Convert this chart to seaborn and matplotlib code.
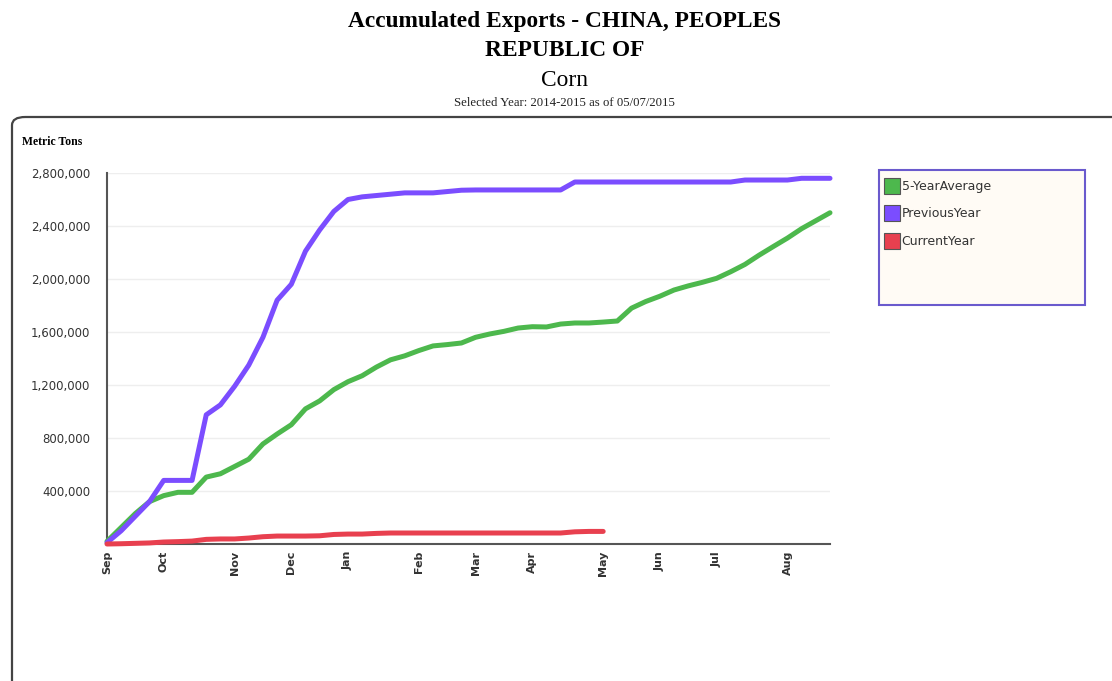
import numpy as np
import pandas as pd
import matplotlib
matplotlib.use('Agg')
import matplotlib.pyplot as plt
import seaborn as sns
from matplotlib.patches import FancyBboxPatch, Rectangle, Patch

# weekly points, Sep .. end of Aug (marketing year 2014-2015)
weeks = list(range(52))
month_labels = ['Sep', 'Oct', 'Nov', 'Dec', 'Jan', 'Feb', 'Mar', 'Apr', 'May', 'Jun', 'Jul', 'Aug']
month_weeks = [0, 4, 9, 13, 17, 22, 26, 30, 35, 39, 43, 48]

five_year_avg = [20000, 125000, 230000, 320000, 365000, 390000, 390000, 505000, 530000, 585000,
                 640000, 755000, 830000, 900000, 1020000, 1080000, 1165000, 1225000, 1270000, 1335000,
                 1390000, 1420000, 1460000, 1495000, 1505000, 1517000, 1560000, 1585000, 1605000, 1630000,
                 1640000, 1638000, 1660000, 1668000, 1668000, 1675000, 1683000, 1780000, 1830000, 1870000,
                 1917000, 1948000, 1975000, 2005000, 2055000, 2110000, 2180000, 2245000, 2309000, 2380000,
                 2440000, 2500000]
previous_year = [10000, 100000, 210000, 320000, 480000, 480000, 480000, 975000, 1050000, 1190000,
                 1350000, 1560000, 1840000, 1960000, 2210000, 2370000, 2510000, 2600000, 2620000, 2630000,
                 2640000, 2650000, 2650000, 2650000, 2660000, 2670000, 2672000, 2672000, 2672000, 2672000,
                 2672000, 2672000, 2672000, 2732000, 2732000, 2732000, 2732000, 2732000, 2732000, 2732000,
                 2732000, 2732000, 2732000, 2732000, 2732000, 2747000, 2747000, 2747000, 2747000, 2760000,
                 2760000, 2760000]
current_year = [0, 2000, 5000, 8000, 15000, 18000, 22000, 35000, 38000, 38000,
                45000, 55000, 60000, 60000, 60000, 62000, 72000, 75000, 75000, 80000,
                83000, 83000, 83000, 83000, 83000, 83000, 83000, 83000, 83000, 83000,
                83000, 83000, 83000, 92000, 95000, 95000]

series_names = ['5-YearAverage', 'PreviousYear', 'CurrentYear']
colors = ['#4DB84D', '#7B4DFF', '#E8404F']

df = pd.concat([
    pd.DataFrame({'week': weeks, 'tons': five_year_avg, 'series': series_names[0]}),
    pd.DataFrame({'week': weeks, 'tons': previous_year, 'series': series_names[1]}),
    pd.DataFrame({'week': weeks[:len(current_year)], 'tons': current_year, 'series': series_names[2]}),
])

sns.set_style('white')
fig = plt.figure(figsize=(11.12, 6.81), dpi=100)

# outer rounded frame
frame = FancyBboxPatch((12 / 1112, -0.05), 1.2, (681 - 117) / 681 + 0.05,
                       boxstyle='round,pad=0,rounding_size=0.012', transform=fig.transFigure,
                       facecolor='none', edgecolor='#444444', linewidth=1.6, zorder=-1)
fig.patches.append(frame)

ax = fig.add_axes([107 / 1112, 1 - 544 / 681, (830 - 107) / 1112, (544 - 173) / 681])
ax.set_facecolor('none')

sns.lineplot(data=df, x='week', y='tons', hue='series', palette=dict(zip(series_names, colors)),
             linewidth=3.6, legend=False, ax=ax, clip_on=False, zorder=3)

ax.set_xlim(0, 51)
ax.set_ylim(0, 2800000)
ax.set_yticks(range(400000, 2800001, 400000))
ax.set_yticklabels([f'{v:,}' for v in range(400000, 2800001, 400000)])
ax.set_xticks(month_weeks)
ax.set_xticklabels(month_labels, rotation=90, fontweight='bold')
ax.tick_params(axis='y', labelsize=8.5, labelcolor='#333333', length=0, pad=12)
ax.tick_params(axis='x', labelsize=8, labelcolor='#333333', length=0, pad=5)
ax.grid(axis='y', color='#eeeeee', linewidth=1)
ax.set_xlabel('')
ax.set_ylabel('')
for side in ['top', 'right']:
    ax.spines[side].set_visible(False)
for side in ['left', 'bottom']:
    ax.spines[side].set_color('#555555')
    ax.spines[side].set_linewidth(1.5)

# titles
fig.text(0.508, 1 - 22 / 681, 'Accumulated Exports - CHINA, PEOPLES', ha='center', va='center',
         family='Liberation Serif', fontweight='bold', fontsize=16.8, color='black')
fig.text(0.508, 1 - 51 / 681, 'REPUBLIC OF', ha='center', va='center',
         family='Liberation Serif', fontweight='bold', fontsize=16.8, color='black')
fig.text(0.508, 1 - 81 / 681, 'Corn', ha='center', va='center',
         family='Liberation Serif', fontsize=16.8, color='black')
fig.text(0.508, 1 - 103 / 681, 'Selected Year: 2014-2015 as of 05/07/2015', ha='center', va='center',
         family='Liberation Serif', fontsize=9.2, color='#222222')
fig.text(22 / 1112, 1 - 142 / 681, 'Metric Tons', ha='left', va='center',
         family='Liberation Serif', fontweight='bold', fontsize=8.5, color='black')

# legend box
legend_bg = Rectangle((879 / 1112, 1 - 305 / 681), (1085 - 879) / 1112, (305 - 170) / 681,
                      transform=fig.transFigure, facecolor='#FFFBF5', edgecolor='#6A5ACD',
                      linewidth=1.5, zorder=1)
fig.patches.append(legend_bg)
handles = [Patch(facecolor=c, edgecolor='#555555', linewidth=0.8) for c in colors]
fig.legend(handles, series_names, loc='upper left', bbox_to_anchor=(884 / 1112, 1 - 178 / 681),
           frameon=False, fontsize=9, handlelength=1.3, handleheight=1.6, handletextpad=0.1,
           labelspacing=0.9, borderaxespad=0, borderpad=0, labelcolor='#333333')

fig.savefig('out.png', dpi=100)
